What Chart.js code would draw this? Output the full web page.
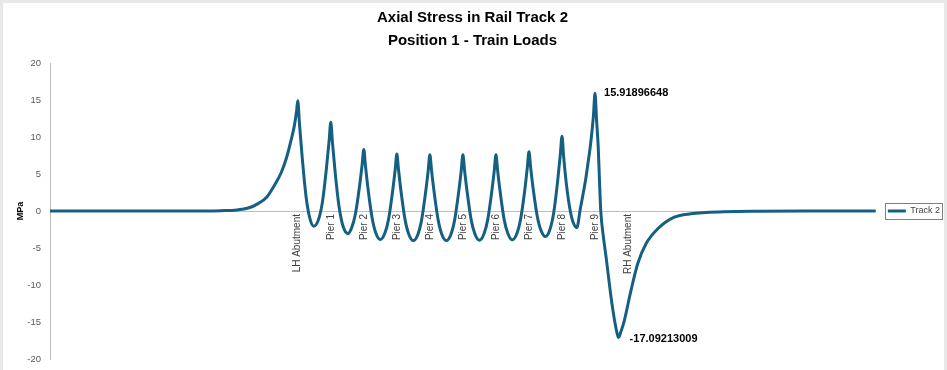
<!DOCTYPE html>
<html>
<head>
<meta charset="utf-8">
<script src="https://cdn.jsdelivr.net/npm/chart.js@4.4.1/dist/chart.umd.min.js"></script>
<style>
  html, body { margin: 0; padding: 0; background: #e8e8e8; }
  #wrap { position: absolute; left: 3px; top: 3px; width: 941px; height: 367px; background: #fff; }
</style>
</head>
<body>
<div id="wrap"><canvas id="stressChart"></canvas></div>
<script>
// distance along track (m), LH abutment = 0, spans of 30 m
const stationM = [
  -225, -150, -100, -70, -55, -45, -36, -28, -21, -15, -10, -6, -3, -1,
  0, 1.5, 4, 7.5, 11, 14.5, 19, 22.5, 26, 28.5,
  30, 31.5, 34, 37.5, 41, 45.5, 49, 52.5, 56, 58.5,
  60, 61.5, 64, 67.5, 71, 75, 79, 82.5, 86, 88.5,
  90, 91.5, 94, 97.5, 101, 105, 109, 112.5, 116, 118.5,
  120, 121.5, 124, 127.5, 131, 135, 139, 142.5, 146, 148.5,
  150, 151.5, 154, 157.5, 161, 165, 169, 172.5, 176, 178.5,
  180, 181.5, 184, 187.5, 191, 195, 199, 202.5, 206, 208.5,
  210, 211.5, 214, 217.5, 221, 225, 229, 232.5, 236, 238.5,
  240, 241.5, 244, 247.5, 250, 253.5, 256.5, 259, 261.5, 264, 266, 268.5,
  270, 271.3, 272.9, 274, 275.2, 277.5, 280, 284.5, 288.2, 290,
  291.4, 293.5, 296.6, 302.7, 308.8, 316.4, 327, 342, 357, 387, 420, 460, 525
];

const stressTrack2 = [
  0, 0, 0, 0.05, 0.15, 0.4, 1.0, 1.9, 3.5, 5.2, 7.3, 9.6, 11.6, 13.6,
  14.9, 11.9, 7.3, 2.0, -1.0, -2.05, -1.1, 1.3, 5.7, 9.5,
  12.0, 9.3, 5.2, 0.6, -2.0, -3.05, -2.25, -0.3, 3.2, 6.3,
  8.3, 6.1, 2.8, -0.9, -3.0, -3.85, -3.05, -1.1, 2.5, 5.6,
  7.7, 5.6, 2.4, -1.2, -3.2, -4.0, -3.2, -1.2, 2.4, 5.5,
  7.6, 5.5, 2.4, -1.2, -3.2, -4.0, -3.2, -1.2, 2.4, 5.5,
  7.6, 5.5, 2.4, -1.2, -3.15, -3.95, -3.15, -1.2, 2.4, 5.5,
  7.6, 5.5, 2.4, -1.2, -3.1, -3.9, -3.05, -1.0, 2.6, 5.9,
  8.0, 5.9, 2.8, -0.7, -2.65, -3.45, -2.5, -0.2, 4.0, 7.7,
  10.1, 7.3, 3.6, 0.0, -1.5, -2.25, 0.2, 2.2, 4.3, 6.9, 9.1, 12.8,
  15.91896648, 12.5, 8.6, 4.2, 0, -3.4, -6.2, -11.6, -15.2, -16.5,
  -17.09213009, -16.3, -14.8, -10.7, -7.1, -4.4, -2.4, -0.84, -0.38, -0.1, -0.02, 0, 0
];

const supportM = [0, 30, 60, 90, 120, 150, 180, 210, 240, 270, 300];
const supportLabels = ['LH Abutment', 'Pier 1', 'Pier 2', 'Pier 3', 'Pier 4', 'Pier 5',
  'Pier 6', 'Pier 7', 'Pier 8', 'Pier 9', 'RH Abutment'];

const lineColor = '#156082';
const axisGrey = '#bfbfbf';

// value labels on the max and min points
const extremeLabels = {
  id: 'extremeLabels',
  afterDatasetsDraw(chart) {
    const meta = chart.getDatasetMeta(0);
    const ctx = chart.ctx;
    const iMax = stressTrack2.indexOf(Math.max(...stressTrack2));
    const iMin = stressTrack2.indexOf(Math.min(...stressTrack2));
    ctx.save();
    ctx.font = 'bold 11px "Liberation Sans", Arial, sans-serif';
    ctx.fillStyle = '#000';
    ctx.textBaseline = 'middle';
    ctx.textAlign = 'left';
    [[iMax, 9, 0], [iMin, 11, 1]].forEach(([i, dx, dy]) => {
      const p = meta.data[i];
      ctx.fillText(String(stressTrack2[i]), p.x + dx, p.y + dy);
    });
    ctx.restore();
  }
};

// thin frame round the legend like the spreadsheet one
const legendFrame = {
  id: 'legendFrame',
  afterDraw(chart) {
    const lg = chart.legend;
    if (!lg || !lg.legendHitBoxes || !lg.legendHitBoxes.length) return;
    const hb = lg.legendHitBoxes[0];
    const ctx = chart.ctx;
    ctx.save();
    ctx.strokeStyle = '#7f7f7f';
    ctx.lineWidth = 1;
    ctx.strokeRect(Math.round(hb.left - 3) + 0.5, Math.round(hb.top - 4) + 0.5,
      Math.round(hb.width + 5), Math.round(hb.height + 7));
    ctx.restore();
  }
};

Chart.defaults.font.family = '"Liberation Sans", Arial, sans-serif';

const ctx = document.getElementById('stressChart');
new Chart(ctx, {
  type: 'line',
  data: {
    datasets: [{
      label: 'Track 2',
      data: stationM.map((x, i) => ({ x: x, y: stressTrack2[i] })),
      borderColor: lineColor,
      backgroundColor: lineColor,
      borderWidth: 3,
      pointRadius: 0,
      cubicInterpolationMode: 'monotone',
      fill: false
    }]
  },
  options: {
    responsive: true,
    maintainAspectRatio: false,
    animation: false,
    layout: { padding: { left: -8, right: -6, bottom: 0, top: 0 } },
    plugins: {
      title: {
        display: true,
        text: ['Axial Stress in Rail Track 2', 'Position 1 - Train Loads'],
        color: '#000',
        font: { size: 15, weight: 'bold', lineHeight: 1.5 },
        padding: { top: 4, bottom: 11 }
      },
      legend: {
        position: 'right',
        fullSize: false,
        labels: {
          usePointStyle: true,
          pointStyle: 'line',
          pointStyleWidth: 18,
          color: '#404040',
          font: { size: 9 },
          padding: 12
        }
      },
      tooltip: { enabled: false }
    },
    scales: {
      x: {
        type: 'linear',
        min: -225,
        max: 525,
        position: { y: 0 },
        grid: { display: false, drawTicks: false, tickLength: 0 },
        border: { color: axisGrey },
        afterBuildTicks: axis => { axis.ticks = supportM.map(v => ({ value: v })); },
        ticks: {
          autoSkip: false,
          minRotation: 90,
          maxRotation: 90,
          padding: 3,
          color: '#404040',
          font: { size: 10 },
          callback: (v, i) => supportLabels[i]
        }
      },
      y: {
        min: -20,
        max: 20,
        grid: { display: false, drawTicks: false, tickLength: 0 },
        border: { color: axisGrey },
        afterFit: axis => { axis.width = 55; axis.paddingBottom = 11; },
        ticks: { stepSize: 5, color: '#595959', font: { size: 9.5 }, padding: 9 },
        title: {
          display: true,
          text: 'MPa',
          color: '#000',
          font: { size: 9, weight: 'bold' },
          padding: { top: 20, bottom: 4 }
        }
      }
    }
  },
  plugins: [extremeLabels, legendFrame]
});
</script>
</body>
</html>
